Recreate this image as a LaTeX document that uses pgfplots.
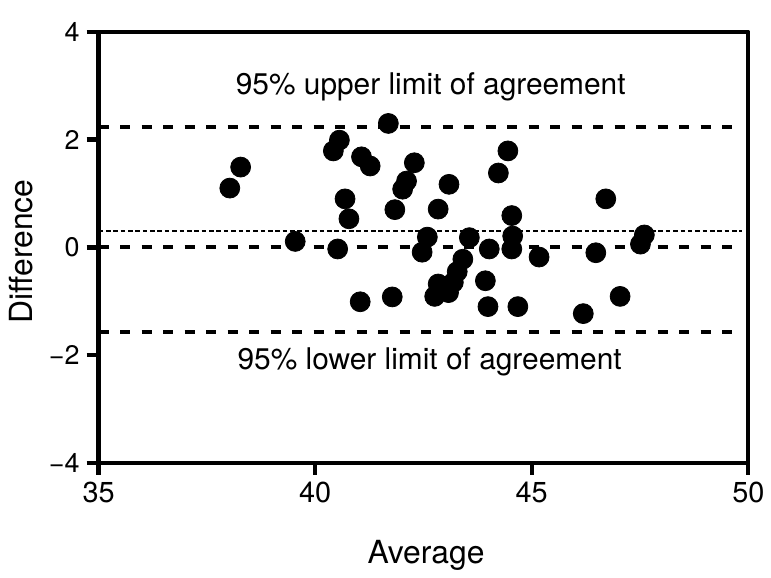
\documentclass[border=0pt]{standalone}
\usepackage{fontspec}
\setmainfont{TeX Gyre Heros}
\usepackage{pgfplots}
\pgfplotsset{compat=1.18}
\begin{document}
\begin{tikzpicture}
\begin{axis}[
 width=326.35pt, height=216.5pt, scale only axis,
 xmin=35, xmax=50, ymin=-4, ymax=4,
 clip=false,
 axis line style={line width=2.2pt, line cap=round, line join=round},
 xtick={35,40,45,50}, xticklabels={35,40,45,50},
 ytick={-4,-2,0,2,4}, yticklabels={−4,−2,0,2,4},
 xtick pos=bottom, ytick pos=left,
 tick align=outside,
 major tick length=6pt,
 tick style={line width=2.2pt, black},
 xticklabel style={font=\fontsize{14.5}{16}\selectfont},
 yticklabel style={font=\fontsize{13.5}{15}\selectfont},
 xlabel={Average}, ylabel={Difference},
 label style={font=\fontsize{16}{19}\selectfont},
 xlabel style={at={(axis description cs:0.504,-0.215)},anchor=center},
 ylabel style={at={(axis description cs:-0.1187,0.49)},anchor=center},
]
% limit lines
\addplot[black, line width=2pt, dash pattern=on 5pt off 5.8pt] coordinates {(35,2.24) (49.8,2.24)};
\addplot[black, line width=2pt, dash pattern=on 5pt off 5.8pt] coordinates {(35,0) (49.8,0)};
\addplot[black, line width=2pt, dash pattern=on 5pt off 5.8pt] coordinates {(35,-1.57) (49.8,-1.57)};
\addplot[black, line width=1.2pt, dash pattern=on 2.3pt off 1.4pt] coordinates {(35,0.30) (49.85,0.30)};
% data
\addplot[only marks, mark=*, mark size=5pt, black] coordinates {
(38.03,1.10) (38.28,1.49) (39.54,0.11) (40.42,1.79) (40.56,1.99)
(40.52,-0.03) (40.69,0.90) (40.78,0.53) (41.04,-1.01) (41.07,1.68)
(41.27,1.51) (41.69,2.30) (41.78,-0.92) (41.84,0.70) (42.02,1.08)
(42.11,1.23) (42.29,1.57) (42.59,0.19) (42.47,-0.09) (42.84,0.71)
(43.09,1.17) (43.56,0.18) (44.02,-0.03) (44.56,0.21) (44.54,-0.03)
(44.54,0.59) (44.23,1.38) (44.45,1.79) (43.41,-0.22) (43.28,-0.45)
(43.19,-0.65) (43.08,-0.84) (42.84,-0.68) (42.76,-0.91) (43.93,-0.62)
(43.99,-1.10) (44.68,-1.10) (45.17,-0.18) (46.48,-0.10) (46.71,0.90)
(47.51,0.06) (47.60,0.23) (47.04,-0.91) (46.19,-1.23)
};
\node[anchor=base west, inner sep=0pt, font=\fontsize{15}{17}\selectfont] at (axis cs:38.16,2.836) {95\% upper limit of agreement};
\node[anchor=base west, inner sep=0pt, font=\fontsize{15}{17}\selectfont] at (axis cs:38.2,-2.276) {95\% lower limit of agreement};
\path (rel axis cs:-0.1517,-0.2587) rectangle (rel axis cs:1.0296,1.0739);
\end{axis}
\end{tikzpicture}
\end{document}
